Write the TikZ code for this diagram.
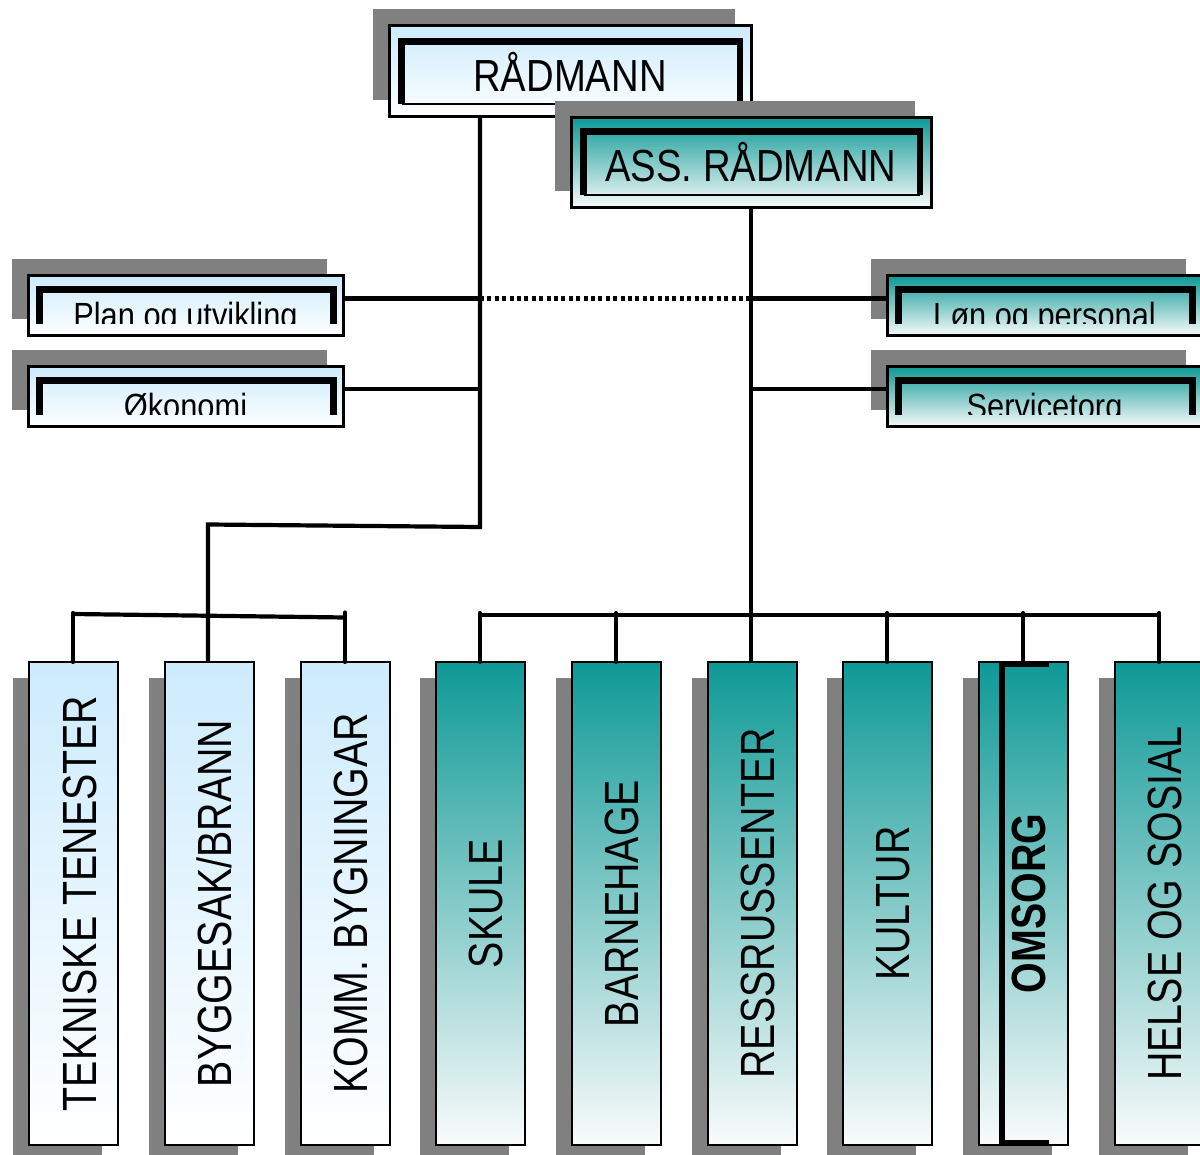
\documentclass[tikz,border=0pt]{standalone}
\usepackage{fontspec}
\setmainfont{Liberation Sans}
\newfontfamily\vfont[FakeStretch=0.82]{Liberation Sans}
\newfontfamily\hfont[FakeStretch=0.85]{Liberation Sans}
\newfontfamily\sfont[FakeStretch=0.88]{Liberation Sans}
\usetikzlibrary{calc,shadows}
\definecolor{lblue}{RGB}{205,235,253}
\definecolor{tealtop}{RGB}{14,153,150}
\definecolor{tealbot}{RGB}{250,251,251}
\definecolor{shadowgray}{RGB}{128,128,128}

\begin{document}
\begin{tikzpicture}[x=1pt,y=-1pt,
  conn/.style={line width=4.2pt},
  dotconn/.style={line width=4.2pt, dash pattern=on 4pt off 3.4pt},
  boxbase/.style={draw=black, outer sep=0pt, inner sep=0pt},
  blueshade/.style={top color=lblue, bottom color=white},
  tealshade/.style={top color=tealtop, bottom color=tealbot},
  hshadow/.style={drop shadow={shadow xshift=-16pt, shadow yshift=16.5pt, fill=shadowgray, opacity=1}},
  vshadow/.style={drop shadow={shadow xshift=-16pt, shadow yshift=-16pt, fill=shadowgray, opacity=1}},
  bigbox/.style={boxbase, line width=3pt, minimum width=362pt, minimum height=91pt, hshadow},
  smallbox/.style={boxbase, line width=3pt, minimum width=315pt, minimum height=60pt, hshadow},
  vbox/.style={boxbase, line width=2pt, minimum width=89pt, minimum height=483pt, vshadow},
  frame/.style={line width=6.5pt, line join=miter},
  thinframe/.style={line width=2pt},
  brk/.style={line width=7pt, line join=miter},
  bigtext/.style={anchor=base, inner sep=0pt, font={\hfont\fontsize{45pt}{50pt}\selectfont}},
  smalltext/.style={anchor=base, inner sep=0pt, font={\sfont\fontsize{35pt}{40pt}\selectfont}},
  vtext/.style={rotate=90, anchor=base, inner sep=0pt, font={\vfont\fontsize{48pt}{52pt}\selectfont}}
]
\useasboundingbox (0,0) rectangle (1200,1155);
\clip (0,0) rectangle (1200,1155);

% --- management boxes ---
\node[bigbox, blueshade] (rad) at (570,71.5) {};
\draw[frame] ($(rad.south west)+(12.5,-13)$) -- ($(rad.north west)+(12.5,15.5)$)
  -- ($(rad.north east)+(-11,15.5)$) -- ($(rad.south east)+(-11,-13)$);
\draw[thinframe] ($(rad.south west)+(12.5,-13)$) -- ($(rad.south east)+(-11,-13)$);
\node[bigtext] (trad) at ($(rad.south)+(0,-25)$) {RÅDMANN};

\node[bigbox, tealshade, minimum width=360pt, minimum height=90pt] (ass) at (751,163) {};
\draw[frame] ($(ass.south west)+(12.5,-13)$) -- ($(ass.north west)+(12.5,13.5)$)
  -- ($(ass.north east)+(-11,13.5)$) -- ($(ass.south east)+(-11,-13)$);
\draw[thinframe] ($(ass.south west)+(12.5,-13)$) -- ($(ass.south east)+(-11,-13)$);
\node[bigtext] (tass) at ($(ass.south)+(0,-26)$) {ASS. RÅDMANN};

% --- staff boxes ---
\node[smallbox, blueshade] (plan) at (185.5,306) {};
\node[smallbox, blueshade] (oko)  at (185.5,397) {};
\node[smallbox, tealshade] (lon)  at (1044.5,306) {};
\node[smallbox, tealshade] (serv) at (1044.5,397) {};

\foreach \n/\t in {plan/Plan og utvikling, oko/Økonomi, lon/Løn og personal, serv/Servicetorg}{
  \draw[brk] ($(\n.south west)+(11,-12)$) -- ($(\n.north west)+(11,14)$)
    -- ($(\n.north east)+(-10,14)$) -- ($(\n.south east)+(-10,-12)$);
  \begin{scope}
    \clip ($(\n.north west)+(11,14)$) rectangle ($(\n.south east)+(-10,-12)$);
    \node[smalltext] (t\n) at ($(\n.south)+(0,-8)$) {\t};
  \end{scope}
}

% --- department boxes ---
\foreach \i/\x in {1/73,2/209,3/345}
  \node[vbox, blueshade] (b\i) at (\x,903.5) {};
\foreach \i/\x in {4/480,5/616,6/752,7/887,8/1023,9/1159}
  \node[vbox, tealshade] (b\i) at (\x,903.5) {};

\node[vtext] (t1) at ($(b1.center)+(23,0)$) {TEKNISKE TENESTER};
\node[vtext] (t2) at ($(b2.center)+(22,0)$) {BYGGESAK/BRANN};
\node[vtext] (t3) at ($(b3.center)+(22,0)$) {KOMM. BYGNINGAR};
\node[vtext] (t4) at ($(b4.center)+(22,0)$) {SKULE};
\node[vtext] (t5) at ($(b5.center)+(22,0)$) {BARNEHAGE};
\node[vtext] (t6) at ($(b6.center)+(22,0)$) {RESSRUSSENTER};
\node[vtext] (t7) at ($(b7.center)+(22,0)$) {KULTUR};
\node[vtext, font={\vfont\bfseries\fontsize{48pt}{52pt}\selectfont}] (t8) at ($(b8.center)+(22,0)$) {OMSORG};
\node[vtext] (t9) at ($(b9.center)+(22,0)$) {HELSE OG SOSIAL};

% bracket inside OMSORG
\draw[line width=6pt, line join=miter]
  ($(b8.north west)+(70,1.5)$) -- ($(b8.north west)+(23,1.5)$)
  -- ($(b8.south west)+(23,-2)$) -- ($(b8.south west)+(70,-2)$);

% --- connectors ---
\coordinate (ja) at (480,527);
\coordinate (jb) at (208,524.5);
\coordinate (jp) at (480,298.5);
\coordinate (jq) at (751,298.5);
\coordinate (jo) at (480,389);
\coordinate (jr) at (751,389);
\coordinate (bl) at (73,614);
\coordinate (br) at (345,617.5);
\coordinate (bus) at (0,615);

\draw[conn] (ja |- rad.south) -- (ja) -- (jb) -- (jb |- b2.north);
\draw[conn] (jp -| plan.east) -- (jp);
\draw[dotconn] (jp) -- (jq);
\draw[conn] (jq) -- (jq -| lon.west);
\draw[conn] (jo -| oko.east) -- (jo);
\draw[conn] (jr) -- (jr -| serv.west);
\draw[conn] (ass.south) -- (ass.south |- b6.north);

\draw[conn] (bl) -- (br);
\draw[conn, line cap=round] ($(bl)+(0,-1)$) -- (bl |- b1.north);
\draw[conn, line cap=round] ($(br)+(0,-5)$) -- (br |- b3.north);

\draw[conn] (b4.north |- bus) -- (b9.north |- bus);
\foreach \i in {4,5,7,8,9}
  \draw[conn, line cap=round] ($(b\i.north |- bus)+(0,-2)$) -- (b\i.north);
\end{tikzpicture}
\end{document}
